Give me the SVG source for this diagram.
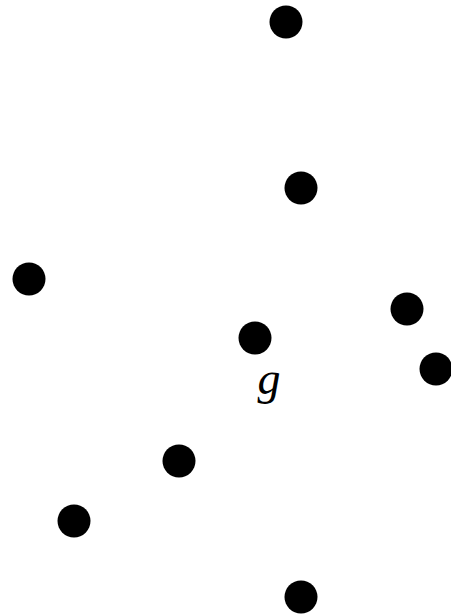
<svg xmlns="http://www.w3.org/2000/svg" width="451" height="614" viewBox="0 0 451 614">
<style>
.n{fill:#000}
.lbl{font-family:"Liberation Serif","Times New Roman",serif;font-style:italic;font-size:46px;fill:#000}
</style>
<rect width="451" height="614" fill="#fff"/>
<g id="connectors"></g>
<g id="n1"><circle class="n" cx="286" cy="22" r="16.5"/></g>
<g id="n2"><circle class="n" cx="301" cy="188" r="16.5"/></g>
<g id="n3"><circle class="n" cx="29" cy="279" r="16.5"/></g>
<g id="n4"><circle class="n" cx="407" cy="309" r="16.5"/></g>
<g id="n5"><circle class="n" cx="255" cy="338" r="16.5"/></g>
<g id="n6"><circle class="n" cx="436" cy="369" r="16.5"/></g>
<g id="n7"><circle class="n" cx="179" cy="461" r="16.5"/></g>
<g id="n8"><circle class="n" cx="74" cy="521" r="16.5"/></g>
<g id="n9"><circle class="n" cx="301" cy="597" r="16.5"/></g>
<g id="label-g"><text class="lbl" x="269" y="394" text-anchor="middle">g</text></g>
</svg>
